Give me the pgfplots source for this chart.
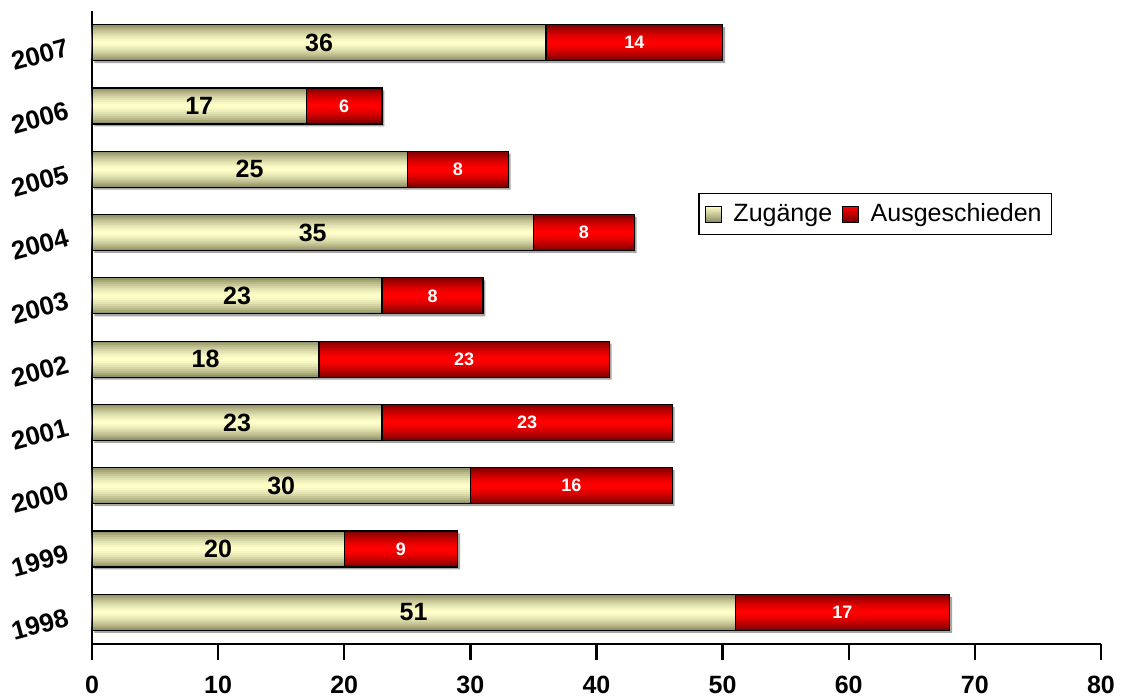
\documentclass[border=0pt]{standalone}
\usepackage{pgfplots}
\usepackage{pgfplotstable}
\usepackage{fontspec}
\setmainfont{Liberation Sans}
\pgfplotsset{compat=1.18}

\definecolor{creamedge}{HTML}{8A8A60}
\definecolor{creammid}{HTML}{FFFFCA}
\definecolor{rededge}{HTML}{780000}
\definecolor{redmid}{HTML}{FF0000}

% idx: position on the category axis, z: Zugaenge, a: Ausgeschieden
\pgfplotstableread{
idx year z  a
0   1998 51 17
1   1999 20 9
2   2000 30 16
3   2001 23 23
4   2002 18 23
5   2003 23 8
6   2004 35 8
7   2005 25 8
8   2006 17 6
9   2007 36 14
}\datatable

\pgfplotsset{
  frame/.style={
    scale only axis,
    width=504.5pt, height=316.5pt,
    xmin=0, xmax=80, ymin=-0.5, ymax=9.5,
    at={(0,0)}, anchor=south west,
  }
}

% one band of the vertical bar gradient
\newcommand\redband[2]{%
  \addplot[forget plot, draw=none, bar width=#1pt, fill=redmid!#2!rededge]
    table[x expr=\thisrow{z}+\thisrow{a}, y=idx] {\datatable};
}
\newcommand\creamband[2]{%
  \addplot[forget plot, draw=none, bar width=#1pt, fill=creammid!#2!creamedge]
    table[x=z, y=idx] {\datatable};
}

\begin{document}
\begin{tikzpicture}
\useasboundingbox (-46pt,-27pt) rectangle (514.5pt,322pt);
\begin{axis}[
  frame,
  xbar, bar shift=0pt,
  axis lines*=left,
  axis line style={line width=1.2pt},
  xtick={0,10,...,80},
  tick align=outside,
  major tick length=8pt,
  xtick style={line width=1.2pt, black},
  ytick={0,...,9},
  yticklabels={1998,1999,2000,2001,2002,2003,2004,2005,2006,2007},
  ytick style={draw=none},
  xticklabel style={font=\fontsize{12.5}{14}\selectfont\bfseries, yshift=-4.5pt},
  yticklabel style={font=\fontsize{13}{14}\selectfont\bfseries, rotate=15, anchor=north east, xshift=-1pt, yshift=7pt},
  /pgf/number format/assume math mode=true,
  legend columns=2,
  legend style={at={(0.601,0.7125)}, anchor=north west, draw=black, line width=0.6pt,
    font=\fontsize{12.5}{15}\selectfont, inner xsep=3pt, inner ysep=3pt,
    /tikz/every even column/.style={column sep=3pt}},
]
% soft shadow
\addplot[forget plot, draw=none, bar width=18pt, fill=black!35, xshift=1.2pt, yshift=-1.2pt]
  table[x expr=\thisrow{z}+\thisrow{a}, y=idx] {\datatable};
% gradient bands of the whole bar, outermost first
\redband{18}{8}
\redband{16}{24}
\redband{14}{39}
\redband{12}{52}
\redband{10}{65}
\redband{8}{76}
\redband{6}{85}
\redband{4}{93}
\redband{2}{99}
% gradient bands of the Zugaenge part on top
\creamband{18}{8}
\creamband{16}{24}
\creamband{14}{39}
\creamband{12}{52}
\creamband{10}{65}
\creamband{8}{76}
\creamband{6}{85}
\creamband{4}{93}
\creamband{2}{99}
% outlines
\addplot[forget plot, draw=black, line width=0.6pt, fill=none, bar width=18pt]
  table[x expr=\thisrow{z}+\thisrow{a}, y=idx] {\datatable};
\addplot[forget plot, draw=black, line width=0.6pt, fill=none, bar width=18pt]
  table[x=z, y=idx] {\datatable};

\addlegendimage{legend image code/.code={%
  \path[draw=none, fill=none] (0pt,0pt) -- (12pt,0pt);
  \draw[line width=0.5pt, draw=black, top color=creammid, bottom color=creamedge] (0pt,-4pt) rectangle (8pt,4pt);}}
\addlegendentry{Zugänge}
\addlegendimage{legend image code/.code={%
  \path[draw=none, fill=none] (0pt,0pt) -- (12pt,0pt);
  \draw[line width=0.5pt, draw=black, top color=redmid, bottom color=rededge] (0pt,-4pt) rectangle (8pt,4pt);}}
\addlegendentry{Ausgeschieden}
\end{axis}

% value labels centred in each segment
\begin{axis}[frame, hide axis, clip=false]
\addplot[only marks, mark=none, nodes near coords, point meta=explicit,
  nodes near coords style={anchor=center, font=\fontsize{12.5}{14}\selectfont\bfseries, text=black},
  /pgf/number format/assume math mode=true]
  table[x expr=\thisrow{z}/2, y=idx, meta=z] {\datatable};
\addplot[only marks, mark=none, nodes near coords, point meta=explicit,
  nodes near coords style={anchor=center, font=\fontsize{9}{11}\selectfont\bfseries, text=white},
  /pgf/number format/assume math mode=true]
  table[x expr=\thisrow{z}+\thisrow{a}/2, y=idx, meta=a] {\datatable};
\end{axis}
\end{tikzpicture}
\end{document}
